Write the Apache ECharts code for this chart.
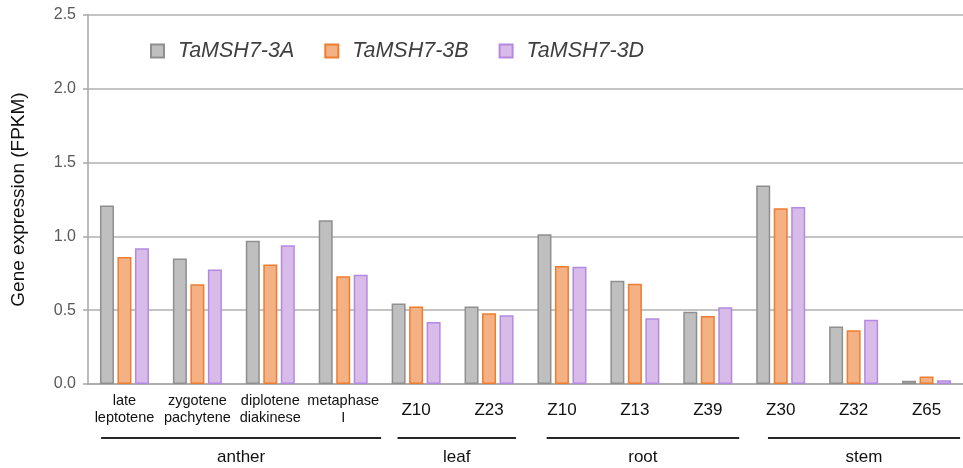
<!DOCTYPE html>
<html>
<head>
<meta charset="utf-8">
<script src="https://cdn.jsdelivr.net/npm/echarts@6/dist/echarts.min.js"></script>
<style>
  html, body { margin: 0; padding: 0; background: #fff; }
  #main { width: 963px; height: 468px; }
</style>
</head>
<body>
<div id="main"></div>
<script>
// categories along the x axis
var categories = ['late\nleptotene', 'zygotene\npachytene', 'diplotene\ndiakinese', 'metaphase\nI',
  'Z10', 'Z23', 'Z10', 'Z13', 'Z39', 'Z30', 'Z32', 'Z65'];
// tissue groups: name, first category index, last category index
var groupNames = ['anther', 'leaf', 'root', 'stem'];
var groupStart = [0, 4, 6, 9];
var groupEnd = [3, 5, 8, 11];

var seriesNames = ['TaMSH7-3A', 'TaMSH7-3B', 'TaMSH7-3D'];
var valuesA = [1.21, 0.85, 0.97, 1.11, 0.545, 0.525, 1.015, 0.70, 0.49, 1.345, 0.39, 0.022];
var valuesB = [0.86, 0.675, 0.81, 0.73, 0.525, 0.48, 0.80, 0.68, 0.46, 1.19, 0.365, 0.05];
var valuesD = [0.92, 0.775, 0.94, 0.74, 0.42, 0.465, 0.795, 0.445, 0.52, 1.20, 0.435, 0.025];

var yTicks = [0, 0.5, 1.0, 1.5, 2.0, 2.5];

var font = 'Arial, "Liberation Sans", sans-serif';
var fills = ['#bfbfbf', '#f4b183', '#d9bbea'];
var borders = ['#8f8f8f', '#ed7d31', '#b48ae0'];
// bracket insets from the group's outer category edges, in category widths
var bracketInL = [0.18, 0.245, 0.29, 0.325];
var bracketInR = [-0.02, 0.13, 0.07, 0.04];

var chart = echarts.init(document.getElementById('main'), null, { renderer: 'canvas' });

function makeSeries(name, data, i) {
  return {
    name: name,
    type: 'bar',
    data: data,
    barWidth: 14,
    barGap: '25%',
    itemStyle: { color: fills[i], borderColor: borders[i], borderWidth: 1.5 }
  };
}

var axisData = categories.map(function (c) {
  var twoLine = c.indexOf('\n') >= 0;
  return { value: c, textStyle: { fontSize: twoLine ? 14.5 : 17, lineHeight: twoLine ? 17 : 36 } };
});

chart.setOption({
  animation: false,
  grid: { left: 88, right: 0, top: 15, bottom: 84 },
  legend: {
    left: 150,
    top: 40,
    padding: 0,
    icon: 'rect',
    itemWidth: 13,
    itemHeight: 13,
    itemGap: 30,
    data: seriesNames,
    textStyle: { fontFamily: font, fontSize: 21.5, fontStyle: 'italic', color: '#404040', padding: [0, 0, 0, 9] }
  },
  xAxis: {
    type: 'category',
    data: axisData,
    axisLine: { lineStyle: { color: '#a6a6a6', width: 1.5 } },
    axisTick: { show: false },
    axisLabel: { interval: 0, color: '#111', fontFamily: font, margin: 8 }
  },
  yAxis: {
    type: 'value',
    min: yTicks[0],
    max: yTicks[yTicks.length - 1],
    interval: 0.5,
    name: 'Gene expression (FPKM)',
    nameLocation: 'middle',
    nameGap: 60,
    nameTextStyle: { fontFamily: font, fontSize: 19, color: '#111' },
    axisLine: { show: true, lineStyle: { color: '#a6a6a6', width: 1.5 } },
    axisTick: { show: true, length: 5, lineStyle: { color: '#a6a6a6', width: 1.5 } },
    splitLine: { lineStyle: { color: '#b0b0b0', width: 1.5 } },
    axisLabel: {
      fontFamily: font, fontSize: 16, color: '#595959', margin: 12,
      formatter: function (v) { return v.toFixed(1); }
    }
  },
  series: [
    makeSeries(seriesNames[0], valuesA, 0),
    makeSeries(seriesNames[1], valuesB, 1),
    makeSeries(seriesNames[2], valuesD, 2)
  ]
});

// group brackets under the category labels
var band = chart.convertToPixel({ xAxisIndex: 0 }, 1) - chart.convertToPixel({ xAxisIndex: 0 }, 0);
var graphics = [];
groupNames.forEach(function (g, i) {
  var x0 = chart.convertToPixel({ xAxisIndex: 0 }, groupStart[i]) - band * (0.5 - bracketInL[i]);
  var x1 = chart.convertToPixel({ xAxisIndex: 0 }, groupEnd[i]) + band * (0.5 - bracketInR[i]);
  graphics.push({
    type: 'line',
    shape: { x1: x0, y1: 438, x2: x1, y2: 438 },
    style: { stroke: '#262626', lineWidth: 2.2 }
  });
  graphics.push({
    type: 'text',
    x: (x0 + x1) / 2,
    y: 457,
    style: { text: g, font: '17px ' + font, fill: '#111', textAlign: 'center', textVerticalAlign: 'middle' }
  });
});
chart.setOption({ graphic: graphics });
</script>
</body>
</html>
